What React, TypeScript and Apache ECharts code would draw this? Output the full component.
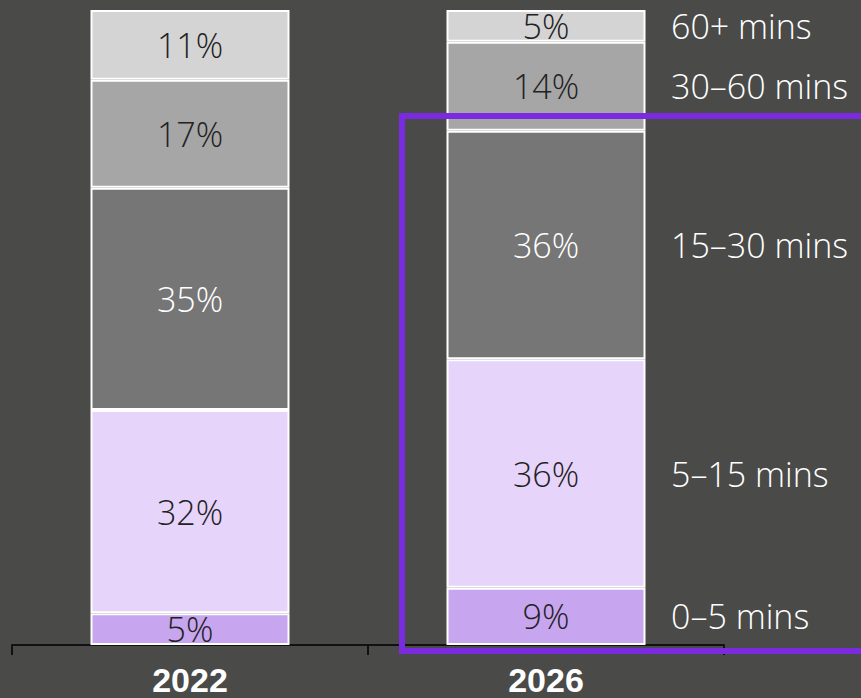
import React, { useEffect, useRef } from "react";
import * as echarts from "echarts";

const years = ["2022", "2026"];
const bands = ["0–5 mins", "5–15 mins", "15–30 mins", "30–60 mins", "60+ mins"];
const share0to5 = [5, 9];
const share5to15 = [32, 36];
const share15to30 = [35, 36];
const share30to60 = [17, 14];
const share60plus = [11, 5];

const bandValues = [share0to5, share5to15, share15to30, share30to60, share60plus];
const bandColors = ["#c7a5ef", "#e7d4fb", "#767676", "#a6a6a6", "#d4d4d4"];
const labelColors = ["#222222", "#222222", "#ffffff", "#222222", "#222222"];

const FONT = "'Open Sans', sans-serif";

export default function App() {
  const ref = useRef<HTMLDivElement>(null);
  useEffect(() => {
    if (!ref.current) return;
    document.body.style.margin = "0";
    const chart = echarts.init(ref.current, undefined, { renderer: "svg" });
    const lastIdx = years.length - 1;
    const series = bandValues.map((vals, i) => {
      let below = 0;
      for (let k = 0; k < i; k++) below += bandValues[k][lastIdx];
      const mid = below + vals[lastIdx] / 2;
      return {
        name: bands[i],
        type: "bar",
        stack: "total",
        barWidth: 199,
        data: vals,
        itemStyle: { color: bandColors[i], borderColor: "#ffffff", borderWidth: 2 },
        label: {
          show: true,
          position: "inside",
          formatter: "{c}%",
          color: labelColors[i],
          fontFamily: FONT,
          fontWeight: 300,
          fontSize: 34,
        },
        markPoint: {
          symbol: "rect",
          symbolSize: 0,
          silent: true,
          data: [{ coord: [lastIdx, mid] }],
          label: {
            show: true,
            position: "right",
            distance: 125,
            formatter: bands[i],
            color: "#ffffff",
            fontFamily: FONT,
            fontWeight: 300,
            fontSize: 34,
          },
        },
      };
    });
    chart.setOption({
      animation: false,
      backgroundColor: "#4a4a49",
      grid: { left: 12, right: 137, top: 10, bottom: 53 },
      xAxis: {
        type: "category",
        data: years,
        axisLine: { show: true, lineStyle: { color: "#111111", width: 2 } },
        axisTick: { show: true, length: 10, lineStyle: { color: "#111111", width: 2 } },
        axisLabel: {
          color: "#ffffff",
          fontFamily: "'Liberation Sans', Arial, sans-serif",
          fontWeight: "bold",
          fontSize: 34,
          lineHeight: 30,
          margin: 20,
        },
      },
      yAxis: { type: "value", min: 0, max: 100, show: false },
      series,
      graphic: [
        {
          type: "rect",
          z: 100,
          silent: true,
          shape: { x: 402, y: 116, width: 520, height: 535 },
          style: { fill: "none", stroke: "#7a2be0", lineWidth: 6 },
        },
      ],
    });
    return () => chart.dispose();
  }, []);
  return (
    <div
      ref={ref}
      style={{ position: "absolute", left: 0, top: 0, width: 861, height: 698 }}
    />
  );
}
